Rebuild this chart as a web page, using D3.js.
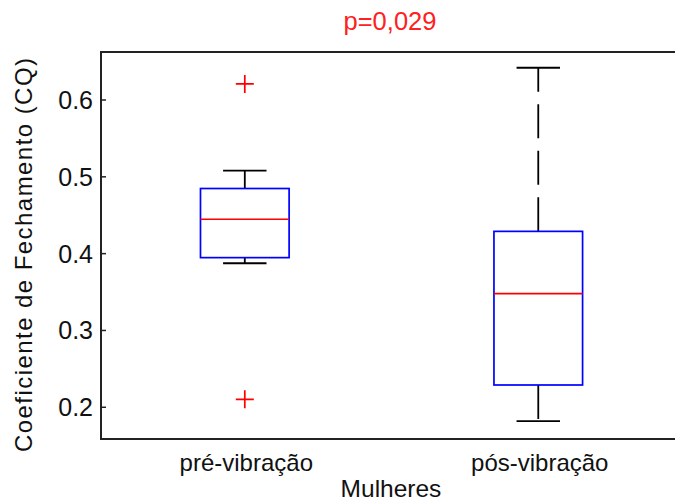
<!DOCTYPE html>
<html><head><meta charset="utf-8">
<script src="https://cdn.jsdelivr.net/npm/d3@7"></script>
<style>body{margin:0;background:#fff}svg{display:block}text{font-family:Arial,"Liberation Sans",sans-serif}</style>
</head><body>
<script>
const categories = ["pré-vibração", "pós-vibração"];
const whiskerLow = [0.3875, 0.182];
const q1 = [0.3948, 0.229];
const median = [0.4448, 0.348];
const q3 = [0.4848, 0.429];
const whiskerHigh = [0.508, 0.642];
const outliers = [[0.621, 0.2104], []];
const yTicks = [0.2, 0.3, 0.4, 0.5, 0.6];
const title = "p=0,029";
const xLabel = "Mulheres";
const yLabel = "Coeficiente de Fechamento (CQ)";

const W = 675, H = 502;
const svg = d3.select("body").append("svg").attr("width", W).attr("height", H);
svg.append("rect").attr("width", W).attr("height", H).attr("fill", "#fff");

const x = d3.scaleLinear().domain([0.51, 2.5]).range([101, 685]);
const y = d3.scaleLinear().domain([0.1587, 0.6625]).range([439, 52]);

const boxHalf = 0.151, capHalf = 0.074;
const data = categories.map((c, i) => ({
  c, i: i + 1, lo: whiskerLow[i], q1: q1[i], med: median[i], q3: q3[i], hi: whiskerHigh[i], out: outliers[i]
}));

const g = svg.append("g");
const grp = g.selectAll("g.box").data(data).join("g").attr("class", "box");

// whiskers (drawn from box outward)
grp.append("line")
  .attr("x1", d => x(d.i)).attr("x2", d => x(d.i))
  .attr("y1", d => y(d.q3)).attr("y2", d => y(d.hi))
  .attr("stroke", "#000").attr("stroke-width", 1.8).attr("stroke-dasharray", "34,12.5");
grp.append("line")
  .attr("x1", d => x(d.i)).attr("x2", d => x(d.i))
  .attr("y1", d => y(d.q1)).attr("y2", d => y(d.lo))
  .attr("stroke", "#000").attr("stroke-width", 1.8).attr("stroke-dasharray", "34,12.5");
// caps
["hi", "lo"].forEach(k => {
  grp.append("line")
    .attr("x1", d => x(d.i - capHalf)).attr("x2", d => x(d.i + capHalf))
    .attr("y1", d => y(d[k])).attr("y2", d => y(d[k]))
    .attr("stroke", "#000").attr("stroke-width", 1.8);
});
// boxes
grp.append("rect")
  .attr("x", d => x(d.i - boxHalf)).attr("width", d => x(d.i + boxHalf) - x(d.i - boxHalf))
  .attr("y", d => y(d.q3)).attr("height", d => y(d.q1) - y(d.q3))
  .attr("fill", "none").attr("stroke", "#0000ff").attr("stroke-width", 1.7);
// median
grp.append("line")
  .attr("x1", d => x(d.i - boxHalf)).attr("x2", d => x(d.i + boxHalf))
  .attr("y1", d => y(d.med)).attr("y2", d => y(d.med))
  .attr("stroke", "#ff0000").attr("stroke-width", 1.7);
// outliers
grp.each(function(d) {
  const s = d3.select(this);
  d.out.forEach(v => {
    s.append("path")
      .attr("d", `M${x(d.i) - 9},${y(v)}H${x(d.i) + 9}M${x(d.i)},${y(v) - 9}V${y(v) + 9}`)
      .attr("stroke", "#ff0000").attr("stroke-width", 1.7).attr("fill", "none");
  });
});

// axes spines
const ax = svg.append("g");
ax.append("line").attr("x1", x(0.51)).attr("x2", x(0.51)).attr("y1", y(0.6625)).attr("y2", y(0.1587)).attr("stroke", "#222").attr("stroke-width", 2);
ax.append("line").attr("x1", x(0.51) - 1).attr("x2", W).attr("y1", y(0.6625)).attr("y2", y(0.6625)).attr("stroke", "#222").attr("stroke-width", 2);
ax.append("line").attr("x1", x(0.51) - 1).attr("x2", W).attr("y1", y(0.1587)).attr("y2", y(0.1587)).attr("stroke", "#222").attr("stroke-width", 2);

// y ticks
const yt = ax.selectAll("g.yt").data(yTicks).join("g").attr("class", "yt");
yt.append("line").attr("x1", x(0.51)).attr("x2", x(0.51) + 5).attr("y1", d => y(d)).attr("y2", d => y(d)).attr("stroke", "#222").attr("stroke-width", 1.5);
yt.append("text").attr("x", 93).attr("y", d => y(d)).attr("dy", "0.36em").attr("text-anchor", "end")
  .attr("font-size", 25).attr("fill", "#111").text(d => d.toFixed(1));

// category labels
svg.selectAll("text.cat").data(data).join("text").attr("class", "cat")
  .attr("x", d => x(d.i) + 1.5).attr("y", 471).attr("text-anchor", "middle")
  .attr("font-size", 24).attr("fill", "#111").text(d => d.c);

svg.append("text").attr("x", 391).attr("y", 497).attr("text-anchor", "middle")
  .attr("font-size", 24.5).attr("fill", "#111").text(xLabel);
svg.append("text").attr("x", 390).attr("y", 30).attr("text-anchor", "middle")
  .attr("font-size", 25.5).attr("fill", "#ff2020").text(title);
svg.append("text").attr("transform", "translate(32,255) rotate(-90)").attr("text-anchor", "middle")
  .attr("font-size", 24).attr("textLength", 394).attr("lengthAdjust", "spacing")
  .attr("fill", "#111").text(yLabel);
</script>
</body></html>
